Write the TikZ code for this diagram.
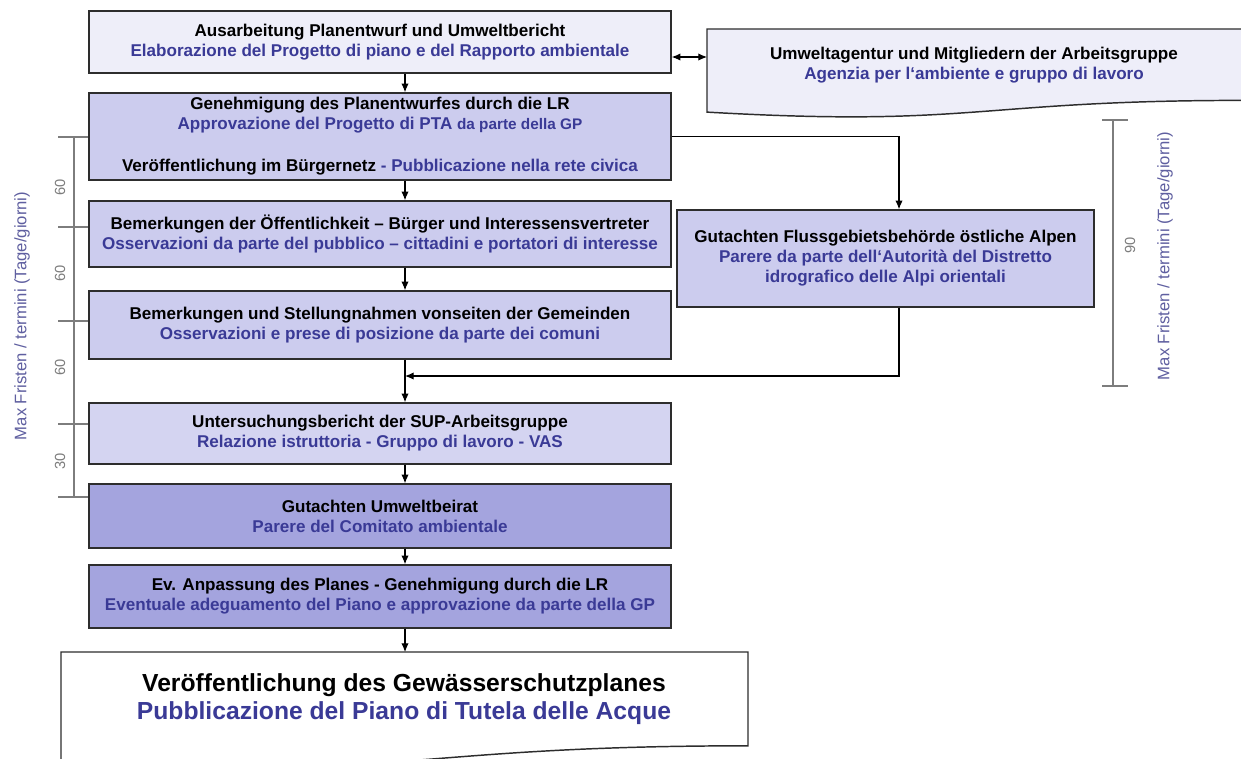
\documentclass[tikz,border=0pt]{standalone}
\usepackage{fontspec}
\setmainfont{Liberation Sans}
\usetikzlibrary{arrows.meta}
\definecolor{txtblue}{RGB}{58,58,150}
\definecolor{fillA}{RGB}{238,238,249}
\definecolor{fillB}{RGB}{204,204,238}
\definecolor{fillC}{RGB}{164,164,222}
\definecolor{bordc}{RGB}{45,45,45}
\definecolor{axisc}{RGB}{125,125,125}
\definecolor{axtxt}{RGB}{95,95,160}
\newcommand{\bl}[1]{\textbf{#1}}
\newcommand{\bu}[1]{\textcolor{txtblue}{\bfseries #1}}
\begin{document}
\begin{tikzpicture}[x=0.75pt,y=-0.75pt,
  box/.style={draw=bordc, line width=1.1pt, minimum width=436.5pt, align=center, inner sep=0pt,
    font=\fontsize{12.8}{15}\selectfont},
  rbox/.style={box, minimum width=312.75pt},
  arr/.style={draw=black, line width=0.8pt, -{Latex[length=6.5pt,width=5.5pt]}},
  darr/.style={draw=black, line width=0.8pt, {Latex[length=6.5pt,width=5.5pt]}-{Latex[length=6.5pt,width=5.5pt]}},
  axis/.style={draw=axisc, line width=0.8pt},
  axlab/.style={rotate=90, text=axisc, font=\fontsize{11}{12}\selectfont, inner sep=0pt},
  sidelab/.style={rotate=90, text=axtxt, font=\fontsize{12.5}{14}\selectfont, inner sep=0pt},
  doc/.style={draw=bordc, line width=1.1pt}]
\clip (0,0) rectangle (1241,758);
\fill[white] (0,0) rectangle (1241,758);

% helper coordinates
\coordinate (ax) at (405,0);
\coordinate (rx) at (899,0);
\coordinate (mj) at (405,376);
\coordinate (d1w) at (707,57);
\coordinate (d2n) at (405,652);

% left time scale
\draw[axis] (74,137) -- (74,497);
\foreach \yy in {137,227,321,424,497} \draw[axis] (58,\yy) -- (89,\yy);
\node[axlab] (l1) at (60,187) {60};
\node[axlab] (l2) at (60,273) {60};
\node[axlab] (l3) at (60,367) {60};
\node[axlab] (l4) at (60,461) {30};
\node[sidelab] (sl) at (22,316) {Max Fristen / termini (Tage/giorni)};

% right time scale
\draw[axis] (1113,120) -- (1113,386);
\draw[axis] (1102,120) -- (1128,120);
\draw[axis] (1102,386) -- (1128,386);
\node[axlab] (r1) at (1130,245) {90};
\node[sidelab] (sr) at (1165,256) {Max Fristen / termini (Tage/giorni)};

% documents
\draw[doc, fill=fillA] (707,29) -- (1243,29) -- (1243,100.4)
  .. controls (975,100.4) and (975,127.5) .. (707,112.1) -- cycle;
\node[font=\fontsize{12.8}{15}\selectfont, align=center] (d1t) at (974,65)
  {\bl{Umweltagentur und Mitgliedern der Arbeitsgruppe}\\ \bu{Agenzia per l‘ambiente e gruppo di lavoro}};

\draw[doc, fill=white] (61,652) -- (748,652) -- (748,745.8)
  .. controls (404.5,745.8) and (404.5,781.5) .. (61,761.3) -- cycle;
\node[font=\fontsize{18.5}{21}\selectfont, align=center] (d2t) at (404,699)
  {\bl{Veröffentlichung des Gewässerschutzplanes}\\ \bu{Pubblicazione del Piano di Tutela delle Acque}};

% main boxes
\node[box, fill=fillA, minimum height=46.5pt] (b1) at (380,42)
  {\bl{Ausarbeitung Planentwurf und Umweltbericht}\\ \bu{Elaborazione del Progetto di piano e del Rapporto ambientale}};
\node[box, fill=fillB, minimum height=65.25pt] (b2) at (380,136.5)
  {\bl{Genehmigung des Planentwurfes durch die LR}\\ \bu{Approvazione del Progetto di PTA {\fontsize{11.5}{15}\selectfont da parte della GP}}\\[16.5pt]
   \bl{Veröffentlichung im Bürgernetz} \bu{- Pubblicazione nella rete civica}};
\node[box, fill=fillB, minimum height=49.5pt] (b3) at (380,234)
  {\bl{Bemerkungen der Öffentlichkeit – Bürger und Interessensvertreter}\\ \bu{Osservazioni da parte del pubblico – cittadini e portatori di interesse}};
\node[box, fill=fillB, minimum height=51pt] (b4) at (380,325)
  {\bl{Bemerkungen und Stellungnahmen vonseiten der Gemeinden}\\ \bu{Osservazioni e prese di posizione da parte dei comuni}};
\node[box, fill=fillB!85!white, minimum height=45.75pt] (b5) at (380,433.5)
  {\bl{Untersuchungsbericht  der SUP-Arbeitsgruppe}\\ \bu{Relazione istruttoria - Gruppo di lavoro - VAS}};
\node[box, fill=fillC, minimum height=48pt] (b6) at (380,516)
  {\bl{Gutachten Umweltbeirat}\\ \bu{Parere del Comitato ambientale}};
\node[box, fill=fillC, minimum height=47.25pt] (b7) at (380,596.5)
  {\bl{Ev. Anpassung  des Planes - Genehmigung durch die LR}\\ \bu{Eventuale adeguamento del Piano e approvazione da parte della GP}};
\node[rbox, fill=fillB, minimum height=72.75pt] (rb) at (885.5,258.5)
  {\bl{Gutachten Flussgebietsbehörde  östliche Alpen}\\ \bu{Parere da parte dell‘Autorità del Distretto}\\ \bu{idrografico delle Alpi orientali}};

% connectors
\draw[darr] (b1.east |- d1w) -- (d1w);
\draw[arr] (b1.south -| ax) -- (b2.north -| ax);
\draw[arr] (b2.south -| ax) -- (b3.north -| ax);
\draw[arr] (b3.south -| ax) -- (b4.north -| ax);
\draw[arr] (b4.south -| ax) -- (b5.north -| ax);
\draw[arr] (b5.south -| ax) -- (b6.north -| ax);
\draw[arr] (b6.south -| ax) -- (b7.north -| ax);
\draw[arr] (b7.south -| ax) -- (d2n);
\draw[arr] (b2.east) -| (rb.north -| rx);
\draw[arr] (rb.south -| rx) |- (mj);
\end{tikzpicture}
\end{document}
